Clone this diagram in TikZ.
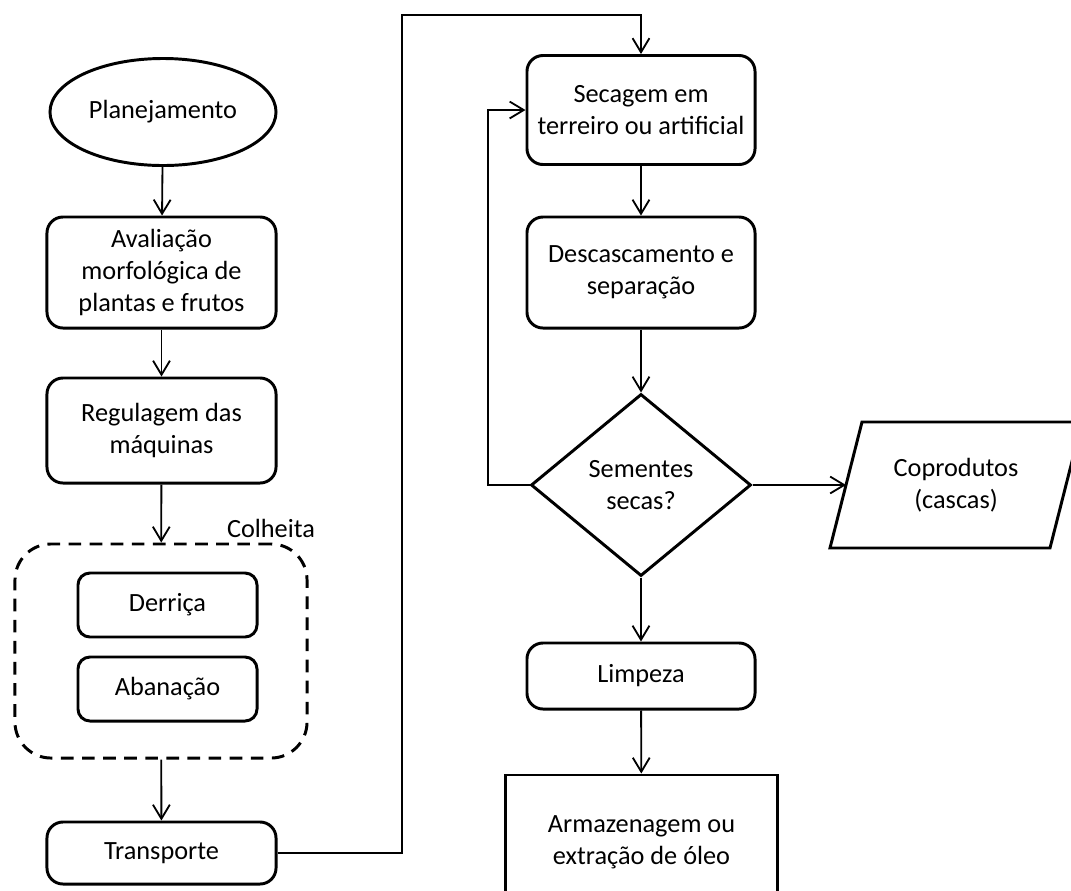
\documentclass[tikz,border=0pt]{standalone}
\usepackage{fontspec}
\setmainfont{Carlito}
\usetikzlibrary{shapes.geometric}
\usetikzlibrary{arrows.meta}
\usetikzlibrary{positioning}
\newcommand{\txt}{\fontsize{18.7}{22.5}\selectfont}
\tikzset{
  procbox/.style={draw, line width=2.1pt, rounded corners=0.4cm, align=center,
    inner sep=0pt, minimum width=5.725cm, font=\txt},
  startbox/.style={draw, ellipse, line width=2.1pt, inner sep=0pt, font=\txt},
  smallbox/.style={draw, line width=2.1pt, rounded corners=0.3cm, inner sep=0pt,
    minimum width=4.475cm, minimum height=1.6cm, font=\txt},
  groupbox/.style={draw, dash pattern=on 9pt off 6pt, line width=2.1pt,
    rounded corners=0.9cm, inner sep=0pt, minimum width=7.3cm, minimum height=5.35cm},
  decisionbox/.style={draw, diamond, line width=2.1pt, inner sep=0pt, align=center,
    minimum width=5.5cm, minimum height=4.55cm, font=\txt},
  iotext/.style={inner sep=0pt, align=center, font=\txt},
  ioline/.style={line width=2.1pt, line join=miter},
  endbox/.style={draw, line width=2.1pt, inner sep=0pt, align=center,
    minimum width=6.775cm, minimum height=3.35cm, font=\txt},
  flow/.style={line width=1.3pt, -{Straight Barb[length=10pt,width=12pt,line width=1.3pt]}}
}

\begin{document}
\begin{tikzpicture}[x=0.025cm, y=-0.025cm]
    \clip (0,0) rectangle (1071,890);
    % left column
    \node[startbox, minimum width=5.65cm, minimum height=2.675cm] (plan) at (163,112) {Planejamento};
    \node[procbox, minimum height=2.775cm] (aval) at (161.5,272.5) {Avaliação\\morfológica de\\plantas e frutos};
    \node[procbox, minimum height=2.625cm] (regul) at (161.5,430.5) {Regulagem das\\máquinas};
    % colheita
    \node[groupbox] (colh) at (161,651) {};
    \node[font=\txt, inner sep=0pt] (colhlbl) at (271,528) {Colheita};
    \node[smallbox] (derr) at (167.5,605) {Derriça};
    \node[smallbox] (aban) at (167.5,689) {Abanação};
    \node[procbox, minimum height=1.55cm] (transp) at (161.5,853) {Transporte};
    % right column
    \node[procbox, minimum width=5.7cm, minimum height=2.725cm] (sec) at (641,110) {Secagem em\\terreiro ou artificial};
    \node[procbox, minimum width=5.7cm, minimum height=2.775cm] (desc) at (641,272.5) {Descascamento e\\separação};
    \node[decisionbox] (dec) at (641,485) {Sementes\\secas?};
    \node[procbox, minimum width=5.7cm, minimum height=1.65cm] (limp) at (641,676) {Limpeza};
    \node[endbox] (armaz) at (641.5,842) {Armazenagem ou\\extração de óleo};
    % coprodutos (parallelogram)
    \node[iotext] (copro) at (956,485) {Coprodutos\\(cascas)};
    \draw[ioline] (862,422) -- (1082,422) -- (1050,548) -- (830,548) -- cycle;
    \coordinate (coproin) at (846,485);
    % turning points
    \coordinate (topturn) at (402,15);
    \coordinate (loopturn) at (488,110);
    % connectors
    \draw[flow] (plan) -- (aval);
    \draw[flow] (aval) -- (regul);
    \draw[flow] (regul) -- (colh);
    \draw[flow] (colh) -- (transp);
    \draw[flow] (transp.east) -| (topturn) -| (sec.north);
    \draw[flow] (sec) -- (desc);
    \draw[flow] (desc) -- (dec);
    \draw[flow] (dec.west) -| (loopturn) -- (sec.west);
    \draw[flow] (dec.east) -- (coproin);
    \draw[flow] (dec) -- (limp);
    \draw[flow] (limp) -- (armaz);
\end{tikzpicture}
\end{document}
